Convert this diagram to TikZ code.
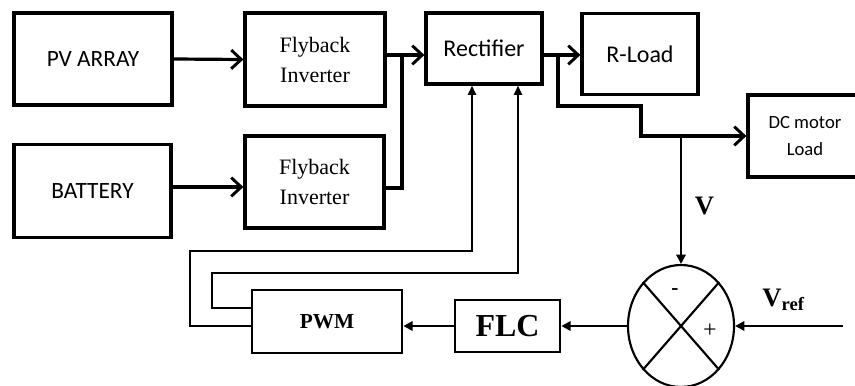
\documentclass[tikz,border=0pt]{standalone}
\usepackage{fontspec}
\setmainfont{Liberation Serif}
\newfontfamily\calib{Carlito}
\usetikzlibrary{calc,arrows.meta,shapes.geometric}

\begin{document}
\begin{tikzpicture}[x=0.75pt, y=-0.75pt,
	blk/.style={draw, line width=2.4pt, inner sep=0pt, align=center},
	conn/.style={line width=2.4pt, -{Straight Barb[length=7.5pt, width=14pt, line width=2.2pt]}},
	fb/.style={line width=1.6pt, -{Triangle[length=7pt, width=6pt]}},
	sig/.style={line width=2pt, -{Triangle[length=7pt, width=7pt]}}]
	\useasboundingbox (0,0) rectangle (855,385);
	\node[blk, minimum width=118.5pt, minimum height=69pt, font=\calib\fontsize{17.5}{21}\selectfont] (pv) at (93,59) {PV ARRAY};
	\node[blk, minimum width=105pt, minimum height=69.75pt, font=\fontsize{16.5}{22.5}\selectfont] (fly1) at (315,59.5) {Flyback\\Inverter};
	\node[blk, minimum width=117.75pt, minimum height=69.75pt, font=\calib\fontsize{17.5}{21}\selectfont] (bat) at (92.5,191) {BATTERY};
	\node[blk, minimum width=104.25pt, minimum height=69pt, font=\fontsize{16.5}{22.5}\selectfont] (fly2) at (314.5,182) {Flyback\\Inverter};
	\node[blk, minimum width=87pt, minimum height=53.25pt, font=\calib\fontsize{18}{21}\selectfont] (rect) at (484,48.5) {Rectifier};
	\node[blk, minimum width=87pt, minimum height=60.75pt, font=\calib\fontsize{18}{21}\selectfont] (rload) at (640,54) {R-Load};
	\node[blk, minimum width=85.5pt, minimum height=61.5pt, font=\calib\fontsize{14}{20}\selectfont] (dcm) at (805,136) {DC motor\\Load};
	\node[blk, line width=2pt, minimum width=112.5pt, minimum height=47.25pt, font=\bfseries\fontsize{16}{19}\selectfont] (pwm) at (327,321.5) {PWM};
	\node[blk, line width=2pt, minimum width=78.75pt, minimum height=39pt, font=\bfseries\fontsize{24}{28}\selectfont] (flc) at (507.5,326) {FLC};
	\node[draw, ellipse, line width=1.6pt, minimum width=79.5pt, minimum height=91.5pt] (sum) at (681,326) {};
	\draw[line width=1.6pt] (sum.north west) -- (sum.south east);
	\draw[line width=1.6pt] (sum.north east) -- (sum.south west);
	\node[font=\bfseries\fontsize{16}{18}\selectfont] (minus) at (675,292) {-};
	\node[font=\fontsize{18}{20}\selectfont] (plus) at (710,331) {+};
	\coordinate (j1) at (402,55);
	\coordinate (j2) at (558,55);
	\coordinate (vin) at (843,326);
	\draw[conn] (pv.east) -- (fly1.west);
	\draw[conn] (bat.east |- 0,187) -- (fly2.west |- 0,187);
	\draw[conn] (fly1.east |- j1) -- (rect.west |- j1);
	\draw[line width=2.4pt] (fly2.east |- 0,188) -| (j1);
	\draw[conn] (rect.east |- j2) -- (rload.west |- j2);
	\draw[conn] (j2) |- (641,106) |- (dcm.west);
	\draw[sig] (sum.north |- dcm.west) -- (sum.north) node[pos=0.55, right=6pt, font=\bfseries\fontsize{20}{22}\selectfont] {V};
	\draw[sig] (vin) -- (sum.east) node[pos=0.55, above=7pt, font=\bfseries\fontsize{20}{22}\selectfont] {V\textsubscript{ref}};
	\draw[sig] (sum.west) -- (flc.east);
	\draw[sig] (flc.west) -- (pwm.east |- flc.west);
	\draw[fb] (pwm.west |- 0,308) -| (212,273) -| ($(rect.south)+(34,0)$);
	\draw[fb] (pwm.west |- 0,326) -| (190,251) -| ($(rect.south)+(-12,0)$);
\end{tikzpicture}
\end{document}
